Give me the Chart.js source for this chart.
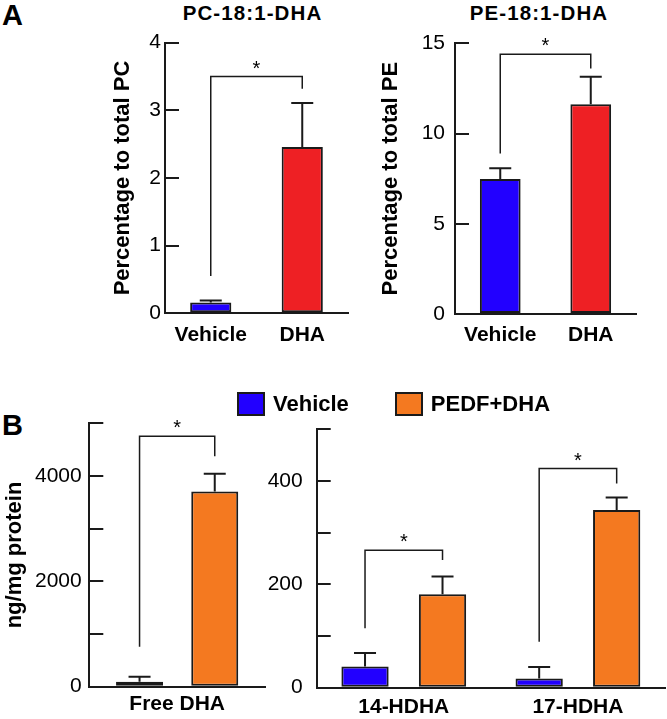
<!DOCTYPE html>
<html>
<head>
<meta charset="utf-8">
<script src="https://cdn.jsdelivr.net/npm/chart.js@4.4.1/dist/chart.umd.min.js"></script>
<style>
    body { margin: 0; background: #fff; width: 667px; height: 719px; position: relative; overflow: hidden; font-family: "Liberation Sans", Arial, sans-serif; }
    .panel { position: absolute; }
    .panelLetter { position: absolute; font-weight: bold; font-size: 29px; line-height: 29px; color: #000; }
    .chartTitle { position: absolute; width: 200px; text-align: center; font-weight: bold; font-size: 20.5px; line-height: 20.5px; letter-spacing: 1.1px; color: #000; white-space: nowrap; }
    #legend { position: absolute; left: 237px; top: 392px; display: flex; gap: 46px; }
    .legendItem { display: flex; align-items: center; height: 24px; font-weight: bold; font-size: 22px; line-height: 24px; color: #000; }
    .legendBox { width: 24px; height: 20px; border: 2px solid #1a1a1a; margin-right: 8px; }
</style>
</head>
<body>
<div class="panelLetter" style="left: 2px; top: 1px;">A</div>
<div class="panelLetter" style="left: 2px; top: 411px;">B</div>
<div class="chartTitle" style="left: 152.5px; top: 3px;">PC-18:1-DHA</div>
<div class="chartTitle" style="left: 439px; top: 3px;">PE-18:1-DHA</div>

<div class="panel" style="left: 0px; top: 0px; width: 350px; height: 350px;"><canvas id="pcChart"></canvas></div>
<div class="panel" style="left: 345px; top: 0px; width: 322px; height: 350px;"><canvas id="peChart"></canvas></div>
<div class="panel" style="left: 0px; top: 380px; width: 268px; height: 339px;"><canvas id="freeDhaChart"></canvas></div>
<div class="panel" style="left: 262px; top: 380px; width: 405px; height: 339px;"><canvas id="hdhaChart"></canvas></div>
<div id="legend"></div>

<script>
// panel A
const groupsA = ["Vehicle", "DHA"];
const pcMean = [0.16, 2.46];
const pcSem = [0.03, 0.65];
const pcBracket = [3.5, 0.55, 3.32];     // bar level, left leg end, right leg end
const peMean = [7.48, 11.62];
const peSem = [0.59, 1.53];
const peBracket = [14.4, 8.9, 13.6];

// panel B
const treatments = ["Vehicle", "PEDF+DHA"];
const freeLabels = ["Free DHA"];
const freeVehicle = [95];
const freeVehicleSem = [95];
const freePedf = [3707];
const freePedfSem = [336];
const freeBrackets = [[4753, 760, 4373]];
const hdhaLabels = ["14-HDHA", "17-HDHA"];
const hdhaVehicle = [41, 18];
const hdhaVehicleSem = [26, 22];
const hdhaPedf = [181, 344];
const hdhaPedfSem = [34, 24];
const hdhaBrackets = [[266, 115, 247], [424, 89, 395]];

const BLUE = "#2200ff";
const RED = "#ee2024";
const ORANGE = "#f47920";
const INK = "#1a1a1a";

Chart.defaults.font.family = '"Liberation Sans", Arial, sans-serif';
Chart.defaults.color = "#000";

function errorBars(sems) {
    return {
        id: "errorBars",
        afterDatasetsDraw(chart) {
            const ctx = chart.ctx;
            const y = chart.scales.y;
            ctx.save();
            ctx.strokeStyle = INK;
            ctx.lineWidth = 2;
            chart.data.datasets.forEach((ds, d) => {
                chart.getDatasetMeta(d).data.forEach((bar, i) => {
                    const top = y.getPixelForValue(ds.data[i] + sems[d][i]);
                    ctx.beginPath();
                    ctx.moveTo(bar.x, bar.y);
                    ctx.lineTo(bar.x, top);
                    ctx.moveTo(bar.x - 11, top);
                    ctx.lineTo(bar.x + 11, top);
                    ctx.stroke();
                });
            });
            ctx.restore();
        }
    };
}

// each bracket: [[dataset, index] of left bar, [dataset, index] of right bar, [level, leftEnd, rightEnd]]
function brackets(list) {
    return {
        id: "brackets",
        afterDatasetsDraw(chart) {
            const ctx = chart.ctx;
            const y = chart.scales.y;
            ctx.save();
            ctx.strokeStyle = INK;
            ctx.fillStyle = "#000";
            ctx.lineWidth = 1.5;
            ctx.font = '20px "Liberation Sans", Arial, sans-serif';
            ctx.textAlign = "center";
            ctx.textBaseline = "alphabetic";
            for (const b of list) {
                const x1 = chart.getDatasetMeta(b[0][0]).data[b[0][1]].x;
                const x2 = chart.getDatasetMeta(b[1][0]).data[b[1][1]].x;
                const yTop = y.getPixelForValue(b[2][0]);
                ctx.beginPath();
                ctx.moveTo(x1, y.getPixelForValue(b[2][1]));
                ctx.lineTo(x1, yTop);
                ctx.lineTo(x2, yTop);
                ctx.lineTo(x2, y.getPixelForValue(b[2][2]));
                ctx.stroke();
                ctx.fillText("*", (x1 + x2) / 2, yTop - 2);
            }
            ctx.restore();
        }
    };
}

function generateBarChart(chartId, p) {
    return new Chart(document.getElementById(chartId).getContext("2d"), {
        type: "bar",
        data: {
            labels: p.labels,
            datasets: p.datasets
        },
        options: {
            animation: false,
            responsive: true,
            maintainAspectRatio: false,
            layout: { padding: p.padding },
            datasets: {
                bar: {
                    borderColor: INK,
                    borderWidth: 2,
                    borderSkipped: false,
                    barPercentage: p.barPct,
                    categoryPercentage: p.catPct
                }
            },
            plugins: {
                legend: { display: false },
                tooltip: { enabled: false },
                title: { display: false }
            },
            scales: {
                x: {
                    grid: { drawOnChartArea: false, drawTicks: false },
                    border: { display: true, color: INK, width: 2 },
                    ticks: { color: "#000", font: { size: 21, weight: "bold" }, padding: p.xPad },
                    afterFit: function(scale) { scale.height = p.xHeight; }
                },
                y: {
                    min: 0,
                    max: p.max,
                    border: { display: true, color: INK, width: 2 },
                    // negative tick length puts the tick marks inside the plot
                    grid: { drawOnChartArea: false, drawTicks: true, tickLength: -14, color: INK, lineWidth: 2 },
                    ticks: {
                        stepSize: p.step,
                        padding: 14 + p.yGap,
                        color: "#000",
                        font: { size: 21 },
                        callback: function(v) {
                            if (p.labelEvery && v % p.labelEvery !== 0) return "";
                            return v;
                        }
                    },
                    title: p.yTitle ? {
                        display: true,
                        text: p.yTitle,
                        color: "#000",
                        font: { size: 22, weight: "bold" },
                        padding: { top: p.yTitlePad, bottom: 0 }
                    } : { display: false },
                    afterFit: function(scale) {
                        scale.width = p.yWidth;
                        scale.paddingTop = 0;
                        scale.paddingBottom = 0;
                    }
                }
            }
        },
        plugins: [errorBars(p.sems), brackets(p.brackets)]
    });
}

generateBarChart("pcChart", {
    labels: groupsA,
    datasets: [{ data: pcMean, backgroundColor: [BLUE, RED] }],
    sems: [pcSem],
    brackets: [[[0, 0], [0, 1], pcBracket]],
    yTitle: "Percentage to total PC",
    yTitlePad: 110,
    padding: { left: 0, right: 2, top: 42.7, bottom: 0 },
    yWidth: 165, xHeight: 36.7, xPad: 9.6, yGap: 4,
    max: 4, step: 1,
    barPct: 0.9, catPct: 0.5
});

generateBarChart("peChart", {
    labels: groupsA,
    datasets: [{ data: peMean, backgroundColor: [BLUE, RED] }],
    sems: [peSem],
    brackets: [[[0, 0], [0, 1], peBracket]],
    yTitle: "Percentage to total PE",
    yTitlePad: 32.5,
    padding: { left: 0, right: 31, top: 43.3, bottom: 0 },
    yWidth: 110, xHeight: 36, xPad: 9, yGap: 10,
    max: 15, step: 5,
    barPct: 0.9, catPct: 0.5
});

generateBarChart("freeDhaChart", {
    labels: freeLabels,
    datasets: [
        { label: treatments[0], data: freeVehicle, backgroundColor: BLUE },
        { label: treatments[1], data: freePedf, backgroundColor: ORANGE }
    ],
    sems: [freeVehicleSem, freePedfSem],
    brackets: freeBrackets.map((b, i) => [[0, i], [1, i], b]),
    yTitle: "ng/mg protein",
    yTitlePad: 1.5,
    padding: { left: 0, right: 3, top: 43.3, bottom: 0 },
    yWidth: 89.3, xHeight: 32.3, xPad: 5, yGap: 7.6,
    max: 5000, step: 1000, labelEvery: 2000,
    barPct: 0.625, catPct: 0.856
});

const hdhaChart = generateBarChart("hdhaChart", {
    labels: hdhaLabels,
    datasets: [
        { label: treatments[0], data: hdhaVehicle, backgroundColor: BLUE },
        { label: treatments[1], data: hdhaPedf, backgroundColor: ORANGE }
    ],
    sems: [hdhaVehicleSem, hdhaPedfSem],
    brackets: hdhaBrackets.map((b, i) => [[0, i], [1, i], b]),
    padding: { left: 0, right: 2, top: 49.3, bottom: 0 },
    yWidth: 54.7, xHeight: 31.3, xPad: 7, yGap: 14,
    max: 500, step: 100, labelEvery: 200,
    barPct: 0.61, catPct: 0.89
});

// shared legend for panel B, built from the chart's own legend items
const legendEl = document.getElementById("legend");
for (const item of Chart.defaults.plugins.legend.labels.generateLabels(hdhaChart)) {
    const el = document.createElement("div");
    el.className = "legendItem";
    const box = document.createElement("span");
    box.className = "legendBox";
    box.style.background = item.fillStyle;
    el.appendChild(box);
    el.appendChild(document.createTextNode(item.text));
    legendEl.appendChild(el);
}
</script>
</body>
</html>
